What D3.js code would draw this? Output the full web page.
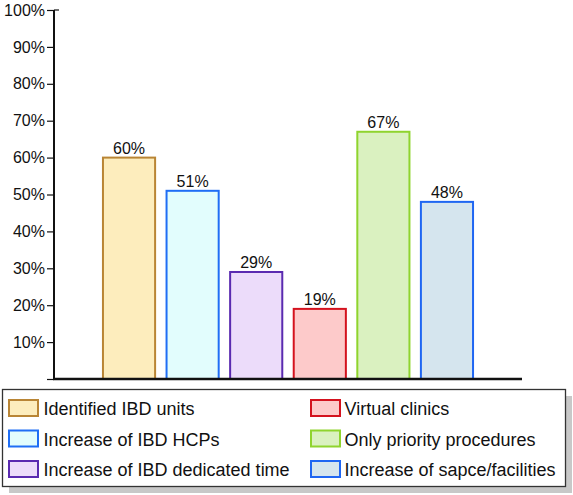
<!DOCTYPE html>
<html>
<head>
<meta charset="utf-8">
<script src="https://cdn.jsdelivr.net/npm/d3@7"></script>
<style>
  html, body { margin: 0; padding: 0; background: #fff; }
  svg { display: block; font-family: "Liberation Sans", Arial, Helvetica, sans-serif; }
</style>
</head>
<body>
<svg id="chart" width="573" height="495"></svg>
<script>
const categories = ["Identified IBD units", "Increase of IBD HCPs", "Increase of IBD dedicated time",
                    "Virtual clinics", "Only priority procedures", "Increase of sapce/facilities"];
const values = [60, 51, 29, 19, 67, 48];
const fills = ["#fdedbd", "#e2fdfd", "#ecdcfa", "#fdcaca", "#daf1c0", "#d5e5ee"];
const strokes = ["#b98535", "#1f6ef5", "#5a2ab0", "#d4121e", "#8fd42e", "#1f66f2"];
const yTicks = [10, 20, 30, 40, 50, 60, 70, 80, 90, 100];
const legendOrder = [[0, 1, 2], [3, 4, 5]];

const svg = d3.select("#chart");
const axisX = 54, baseY = 379, topY = 10, endX = 522;

const x = d3.scaleBand().domain(categories).range([axisX, endX])
  .paddingInner(0.18).paddingOuter(0.77);
const y = d3.scaleLinear().domain([0, 100]).range([baseY, topY]);

// bars
svg.append("g").selectAll("rect").data(categories).join("rect")
  .attr("x", d => x(d))
  .attr("y", (d, i) => y(values[i]))
  .attr("width", x.bandwidth())
  .attr("height", (d, i) => y(0) - y(values[i]))
  .attr("fill", (d, i) => fills[i])
  .attr("stroke", (d, i) => strokes[i])
  .attr("stroke-width", 2);

// value labels
svg.append("g").selectAll("text").data(categories).join("text")
  .attr("x", d => x(d) + x.bandwidth() / 2)
  .attr("y", (d, i) => y(values[i]) - 4)
  .attr("text-anchor", "middle")
  .attr("font-size", 16)
  .attr("fill", "#111")
  .text((d, i) => values[i] + "%");

// y axis
const yAxis = d3.axisLeft(y).tickValues([0].concat(yTicks)).tickSize(7).tickPadding(2)
  .tickFormat(d => d === 0 ? "" : d + "%");
const gy = svg.append("g").attr("transform", `translate(${axisX},0)`).call(yAxis);
gy.select(".domain").attr("stroke", "#111").attr("stroke-width", 2)
  .attr("d", `M0,${topY}V${baseY}`);
gy.selectAll(".tick line").attr("stroke", "#111").attr("stroke-width", 1.2);
gy.selectAll(".tick text").attr("font-size", 16).attr("fill", "#111")
  .attr("font-family", "Liberation Sans, Arial, sans-serif");
// short top cap tick to the right
svg.append("line").attr("x1", axisX).attr("x2", axisX + 5)
  .attr("y1", y(100)).attr("y2", y(100)).attr("stroke", "#111").attr("stroke-width", 1.2);

// x axis baseline
svg.append("line").attr("x1", axisX - 1).attr("x2", endX)
  .attr("y1", baseY).attr("y2", baseY).attr("stroke", "#111").attr("stroke-width", 2.5);

// legend
const lg = svg.append("g");
lg.append("rect").attr("x", 9).attr("y", 396).attr("width", 563).attr("height", 97).attr("fill", "#c8c8c8");
lg.append("rect").attr("x", 2.5).attr("y", 389.5).attr("width", 563).attr("height", 97)
  .attr("fill", "#fff").attr("stroke", "#333").attr("stroke-width", 1.3);
const colX = [[9, 43.5], [311, 344.5]];
legendOrder.forEach((col, c) => {
  col.forEach((idx, r) => {
    const yy = 400 + r * 30.5;
    lg.append("rect").attr("x", colX[c][0]).attr("y", yy).attr("width", 29).attr("height", 16)
      .attr("fill", fills[idx]).attr("stroke", strokes[idx]).attr("stroke-width", 2);
    lg.append("text").attr("x", colX[c][1]).attr("y", yy + 15)
      .attr("font-size", 18).attr("fill", "#111").text(categories[idx]);
  });
});
</script>
</body>
</html>
